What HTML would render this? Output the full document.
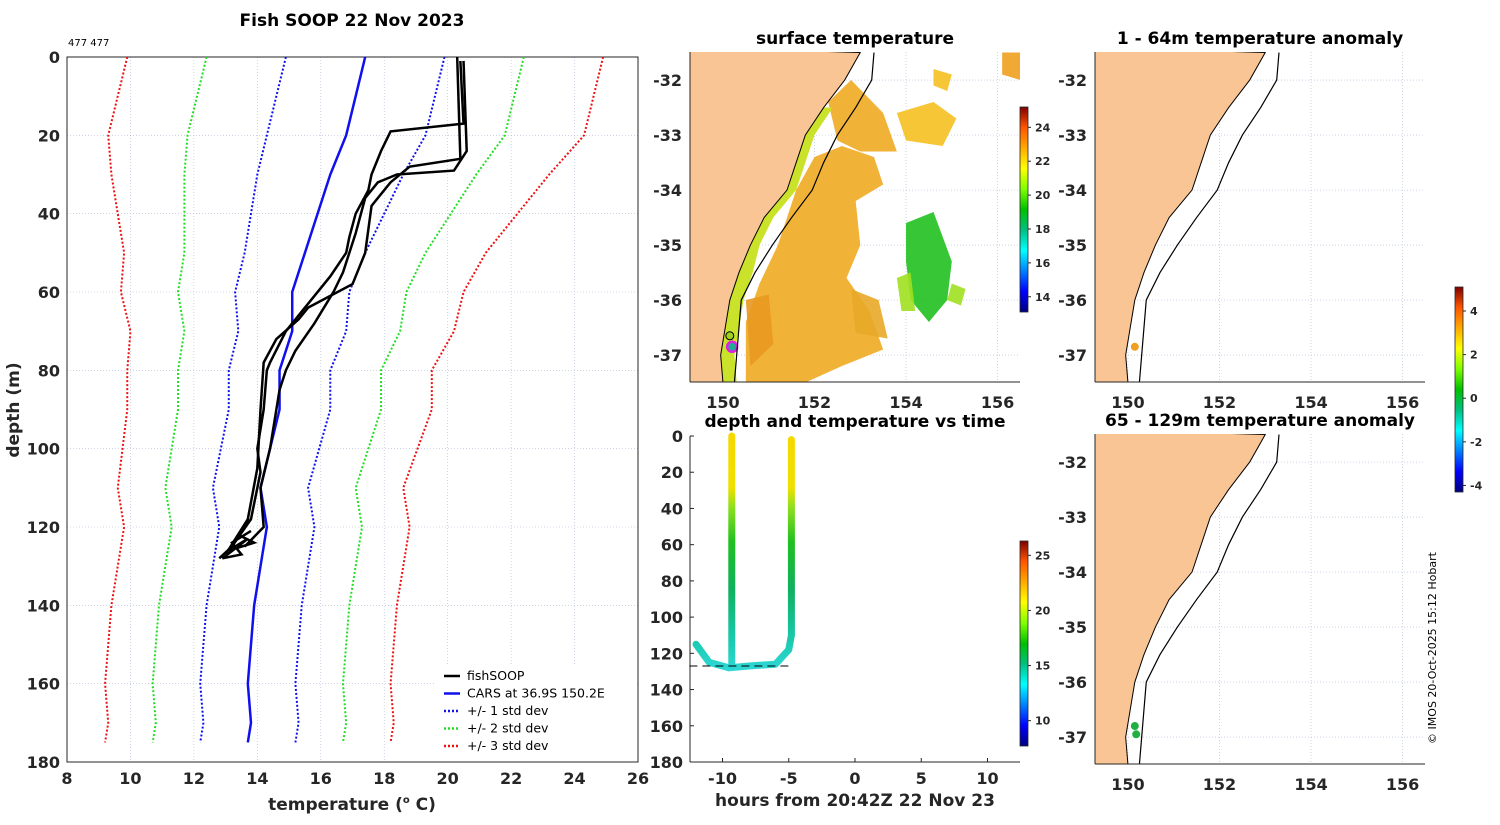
<!DOCTYPE html>
<html><head><meta charset="utf-8"><style>
body{margin:0;background:#fff;width:1500px;height:820px;overflow:hidden}
svg text{font-family:"DejaVu Sans","Liberation Sans",sans-serif;}
</style></head><body>
<svg id="s" width="1500" height="820" xmlns="http://www.w3.org/2000/svg"></svg>
<script>
// ---------- data ----------
const depths=[0,10,20,30,40,50,60,70,80,90,100,110,120,130,140,150,160,170,175];
const carsMean=[17.4,17.1,16.8,16.3,15.9,15.5,15.1,15.1,14.7,14.7,14.4,14.1,14.3,14.1,13.9,13.8,13.7,13.8,13.7];
const carsStd=[2.5,2.5,2.5,2.3,2.1,1.9,1.8,1.7,1.6,1.6,1.55,1.5,1.5,1.5,1.5,1.5,1.5,1.5,1.5];
const profA=[[20.4,1],[20.5,17],[18.2,19],[17.9,24],[17.6,30],[17.5,34],[17.1,40],[16.9,46],[16.8,50],[16.3,56],[15.4,65],[14.9,70],[14.4,78],[14.3,80],[14.2,90],[14.0,100],[14.1,106],[14.0,110],[13.8,118],[13.2,125],[12.8,128]];
const profB=[[20.5,1],[20.6,24],[20.2,29],[18.4,30],[17.8,32],[17.4,36],[17.2,42],[17.1,45],[16.9,50],[16.7,55],[16.4,60],[15.8,68],[15.2,75],[14.9,80],[14.7,85],[14.5,95],[14.4,100],[14.1,110],[14.2,120],[13.6,125]];
const profC=[[20.3,0],[20.4,26],[18.8,28],[18.2,32],[17.6,38],[17.5,44],[17.4,50],[17.0,58],[15.6,64],[15.3,67],[14.6,72],[14.2,78],[14.1,90],[14.0,105],[13.7,118],[13.0,127]];
const profD=[[13.8,118],[13.4,122],[13.9,124],[13.1,126],[13.7,123],[12.9,128],[13.5,127],[13.2,124],[13.8,121]];
const tempTicks=[8,10,12,14,16,18,20,22,24,26];
const depthTicks=[0,20,40,60,80,100,120,140,160,180];
const hourTicks=[-10,-5,0,5,10];
const lonTicks=[150,152,154,156];
const latTicks=[-32,-33,-34,-35,-36,-37];
const coast=[[153.0,-31.5],[152.66,-32],[152.2,-32.5],[151.8,-33],[151.6,-33.5],[151.4,-34],[150.9,-34.5],[150.6,-35],[150.35,-35.5],[150.15,-36],[150.05,-36.5],[149.95,-37],[150.0,-37.5]];
const shelf=[[153.3,-31.5],[153.25,-32],[152.9,-32.5],[152.5,-33],[152.2,-33.5],[151.95,-34],[151.5,-34.5],[151.08,-35],[150.7,-35.5],[150.4,-36],[150.35,-36.5],[150.3,-37],[150.25,-37.5]];
const cast1=[[-9.3,0],[-9.3,127]];
const cast2=[[-4.8,2],[-4.8,110],[-5,118],[-6,126],[-8,127],[-9.5,128],[-11,125],[-12,115]];
// ---------- helpers ----------
const S=document.getElementById('s');const NS='http://www.w3.org/2000/svg';
function el(t,a,p){const e=document.createElementNS(NS,t);for(const k in a)e.setAttribute(k,a[k]);(p||S).appendChild(e);return e;}
function txt(x,y,s,o){const e=el('text',Object.assign({x:x,y:y,'font-size':16,'font-weight':'bold',fill:'#262626'},o||{}));e.textContent=s;return e;}
// ---------- main profile chart ----------
const X0=67,X1=638,Y0=57,Y1=762;
const tx=t=>X0+(t-8)/18*(X1-X0), dy=d=>Y0+d/180*(Y1-Y0);
const g1=el('g',{});
tempTicks.forEach(t=>{el('line',{x1:tx(t),x2:tx(t),y1:Y0,y2:Y1,stroke:'#b0b8d8','stroke-width':0.6,'stroke-dasharray':'1,2'},g1);
 const l=txt(tx(t),784,String(t),{'text-anchor':'middle'},g1);});
depthTicks.forEach(d=>{el('line',{x1:X0,x2:X1,y1:dy(d),y2:dy(d),stroke:'#b0b8d8','stroke-width':0.6,'stroke-dasharray':'1,2'},g1);
 const l=txt(60,dy(d)+6,String(d),{'text-anchor':'end'});});
el('rect',{x:X0,y:Y0,width:X1-X0,height:Y1-Y0,fill:'none',stroke:'#262626','stroke-width':1},g1);
function pl(pts,st,nm){const p=el('polyline',Object.assign({points:pts.map(q=>q.join(',')).join(' '),fill:'none'},st),g1);}
const cols={1:'#1010ee',2:'#22dd22',3:'#ee1111'};
[1,2,3].forEach(k=>{[-1,1].forEach(sg=>{pl(depths.map((d,i)=>[tx(carsMean[i]+sg*k*carsStd[i]),dy(d)]),{stroke:cols[k],'stroke-width':2,'stroke-dasharray':'2,2'},'std-'+k+(sg<0?'-low':'-high'));});});
pl(depths.map((d,i)=>[tx(carsMean[i]),dy(d)]),{stroke:'#1010ee','stroke-width':2.5},'cars-mean-line');
[profA,profB,profC,profD].forEach((p,i)=>pl(p.map(q=>[tx(q[0]),dy(q[1])]),{stroke:'#000','stroke-width':2.5},'fishsoop-profile-'+i));
const t1=txt(352,26,'Fish SOOP 22 Nov 2023',{'text-anchor':'middle',fill:'#000','font-size':17});
const t2=txt(68,46,'477 477',{'font-size':10,'font-weight':'normal',fill:'#000'});
const xl=txt(352,810,'temperature (',{'text-anchor':'middle','font-size':17});xl.innerHTML='temperature (<tspan font-size="10" dy="-7">o</tspan><tspan dy="7"> C)</tspan>';
const yl=txt(0,0,'depth (m)',{'text-anchor':'middle','font-size':17,transform:'translate(19,410) rotate(-90)'});
// legend
const lg=el('g',{});
el('rect',{x:436,y:664,width:201,height:96,fill:'#fff'},lg);
[['fishSOOP','#000',''],['CARS at 36.9S 150.2E','#1010ee',''],['+/- 1 std dev','#1010ee','2,2'],['+/- 2 std dev','#22dd22','2,2'],['+/- 3 std dev','#ee1111','2,2']].forEach((e,i)=>{
 const y=676+i*17.5;const g=el('g',{},lg);
 el('line',{x1:444,x2:460,y1:y,y2:y,stroke:e[1],'stroke-width':2.5,'stroke-dasharray':e[2]},g);
 const t=el('text',{x:467,y:y+4,'font-size':12.5,fill:'#000'},g);t.textContent=e[0];});
// ---------- maps ----------
function mapPanel(px,py,name,title,extra){
 const w=330,h=330,lon0=149.28,lon1=156.49,lat0=-31.49,lat1=-37.49;
 const mx=l=>px+(l-lon0)/(lon1-lon0)*w, my=a=>py+(a-lat0)/(lat1-lat0)*h;
 const g=el('g',{});
 const cid='c'+px+py;const cp=el('clipPath',{id:cid},g);el('rect',{x:px,y:py,width:w,height:h},cp);
 const gi=el('g',{'clip-path':'url(#'+cid+')'},g);
 lonTicks.forEach(l=>{el('line',{x1:mx(l),x2:mx(l),y1:py,y2:py+h,stroke:'#b0b8d8','stroke-width':0.6,'stroke-dasharray':'1,2'},gi);
  const t=txt(mx(l),py+h+26,String(l),{'text-anchor':'middle'});});
 latTicks.forEach(a=>{el('line',{x1:px,x2:px+w,y1:my(a),y2:my(a),stroke:'#b0b8d8','stroke-width':0.6,'stroke-dasharray':'1,2'},gi);
  const t=txt(px-8,my(a)+6,String(a),{'text-anchor':'end'});});
 if(extra)extra(gi,mx,my);
 const land=coast.map(q=>[mx(q[0]),my(q[1])]);land.push([px-5,py+h+5],[px-5,py-5]);
 const lp=el('polygon',{points:land.map(q=>q.join(',')).join(' '),fill:'#f9c594',stroke:'#000','stroke-width':1},gi);
 const sp=el('polyline',{points:shelf.map(q=>mx(q[0])+','+my(q[1])).join(' '),fill:'none',stroke:'#000','stroke-width':1.2},gi);
 el('line',{x1:px,x2:px,y1:py,y2:py+h,stroke:'#262626'},g);el('line',{x1:px,x2:px+w,y1:py+h,y2:py+h,stroke:'#262626'},g);
 const tt=txt(px+w/2,py-8,title,{'text-anchor':'middle',fill:'#000','font-size':17});
 return {mx,my};
}
const sstBlobs=[
 {c:'#f0aa22',p:[[151.6,-34.0],[152.0,-33.4],[152.6,-33.2],[153.3,-33.4],[153.5,-33.9],[152.9,-34.2],[153.0,-35.0],[152.7,-35.6],[153.2,-36.2],[153.5,-36.9],[152.6,-37.2],[151.8,-37.5],[150.5,-37.5],[150.5,-36.4],[150.8,-35.7],[151.2,-35.0]]},
 {c:'#f0aa22',p:[[152.3,-32.4],[152.8,-32.0],[153.5,-32.6],[153.8,-33.3],[153.0,-33.3],[152.5,-33.1]]},
 {c:'#f5c020',p:[[153.8,-32.6],[154.6,-32.4],[155.1,-32.7],[154.8,-33.2],[154.0,-33.1]]},
 {c:'#f5c020',p:[[154.6,-31.8],[155.0,-31.9],[154.9,-32.2],[154.6,-32.1]]},
 {c:'#e89820',p:[[150.5,-36.0],[151.0,-35.9],[151.1,-36.8],[150.6,-37.2]]},
 {c:'#e8a828',p:[[152.8,-35.8],[153.4,-36.0],[153.6,-36.7],[152.9,-36.6]]},
 {c:'#20c020',p:[[154.0,-34.6],[154.6,-34.4],[155.0,-35.3],[154.9,-36.0],[154.5,-36.4],[154.1,-36.0],[154.0,-35.3]]},
 {c:'#a0e020',p:[[153.8,-35.6],[154.1,-35.5],[154.2,-36.2],[153.9,-36.2]]},
 {c:'#a0e020',p:[[155.0,-35.7],[155.3,-35.8],[155.2,-36.1],[154.9,-36.0]]},
 {c:'#f0a020',p:[[156.1,-31.5],[156.5,-31.5],[156.5,-32.0],[156.1,-31.9]]}];
mapPanel(690,52,'surface-temperature-map','surface temperature',(g,mx,my)=>{
 sstBlobs.forEach(b=>{const e=el('polygon',{points:b.p.map(q=>mx(q[0])+','+my(q[1])).join(' '),fill:b.c,opacity:0.9},g);});
 const strip=coast.filter(q=>q[1]<=-32.5).map(q=>[q[0],q[1]]);const back=strip.slice().reverse().map(q=>[q[0]+(q[1]<-35?0.3:0.2),q[1]]);
 const sp=el('polygon',{points:strip.concat(back).map(q=>mx(q[0])+','+my(q[1])).join(' '),fill:'#c8e020',opacity:0.95},g);
 el('circle',{cx:mx(150.2),cy:my(-36.85),r:5,fill:'#2a9',stroke:'#e020e0','stroke-width':2.5},g);
 el('circle',{cx:mx(150.15),cy:my(-36.65),r:4,fill:'#a0d020',stroke:'#000','stroke-width':1},g);
});
mapPanel(1095,52,'anomaly-map-shallow','1 - 64m temperature anomaly',(g,mx,my)=>{el('circle',{cx:mx(150.15),cy:my(-36.85),r:4,fill:'#f0a020'},g);});
mapPanel(1095,434,'anomaly-map-deep','65 - 129m temperature anomaly',(g,mx,my)=>{el('circle',{cx:mx(150.15),cy:my(-36.8),r:4,fill:'#20b040'},g);el('circle',{cx:mx(150.18),cy:my(-36.95),r:4,fill:'#20b040'},g);});
// ---------- colorbars ----------
const defs=el('defs',{});
const jet=['#00007f','#0000ff','#007fff','#00ffff','#00c080','#00c000','#7fff00','#ffff00','#ffaa00','#ff5500','#7f0000'];
const lgr=el('linearGradient',{id:'jet',x1:0,y1:1,x2:0,y2:0},defs);
jet.forEach((c,i)=>el('stop',{offset:i/(jet.length-1),'stop-color':c},lgr));
function cbar(x,y,h,labels,v0,v1,nm){const g=el('g',{});
 el('rect',{x:x,y:y,width:8,height:h,fill:'url(#jet)',stroke:'#262626','stroke-width':0.8},g);
 labels.forEach(v=>{const yy=y+h-(v-v0)/(v1-v0)*h;el('line',{x1:x+8,x2:x+11,y1:yy,y2:yy,stroke:'#262626'},g);
  const t=el('text',{x:x+15,y:yy+4,'font-size':11,'font-weight':'bold',fill:'#262626'},g);t.textContent=v;});}
cbar(1020,107,205,[14,16,18,20,22,24],13.1,25.2,'sst-colorbar');
cbar(1020,541,205,[10,15,20,25],7.7,26.3,'time-colorbar');
cbar(1455,287,205,[-4,-2,0,2,4],-4.3,5.1,'anomaly-colorbar');
// ---------- depth vs time ----------
const TX0=690,TX1=1020,TY0=436,TY1=762;
const hx=h=>855+h*13.25, ty=d=>TY0+d/180*(TY1-TY0);
const g3=el('g',{});
el('line',{x1:TX0,x2:TX0,y1:TY0,y2:TY1,stroke:'#262626'},g3);el('line',{x1:TX0,x2:TX1,y1:TY1,y2:TY1,stroke:'#262626'},g3);
depthTicks.forEach(d=>{el('line',{x1:TX0,x2:TX0+4,y1:ty(d),y2:ty(d),stroke:'#262626'},g3);const t=txt(683,ty(d)+6,String(d),{'text-anchor':'end'});});
hourTicks.forEach(h=>{el('line',{x1:hx(h),x2:hx(h),y1:TY1,y2:TY1-4,stroke:'#262626'},g3);const t=txt(hx(h),784,String(h),{'text-anchor':'middle'});});
const lg2=el('linearGradient',{id:'cast',x1:0,y1:ty(0),x2:0,y2:ty(130),gradientUnits:'userSpaceOnUse'},defs);
[[0,'#f5d800'],[0.22,'#f0e000'],[0.3,'#90e020'],[0.45,'#20c020'],[0.65,'#10b060'],[0.85,'#18c8a8'],[1,'#30d8d8']].forEach(s=>el('stop',{offset:s[0],'stop-color':s[1]},lg2));
[cast1,cast2].forEach((c,i)=>{const p=el('polyline',{points:c.map(q=>hx(q[0])+','+ty(q[1])).join(' '),fill:'none',stroke:'url(#cast)','stroke-width':7,'stroke-linejoin':'round','stroke-linecap':'round'},g3);});
const bl=el('line',{x1:hx(-12.5),x2:hx(-4.8),y1:ty(127),y2:ty(127),stroke:'#000','stroke-dasharray':'8,5'},g3);
const tt3=txt(855,427,'depth and temperature vs time',{'text-anchor':'middle',fill:'#000','font-size':17});
const xl3=txt(855,806,'hours from 20:42Z 22 Nov 23',{'text-anchor':'middle','font-size':17});
const cr=txt(0,0,'© IMOS 20-Oct-2025 15:12 Hobart',{'font-size':11,'font-weight':'normal',fill:'#000','text-anchor':'middle',transform:'translate(1436,648) rotate(-90)'});
</script>
</body></html>
